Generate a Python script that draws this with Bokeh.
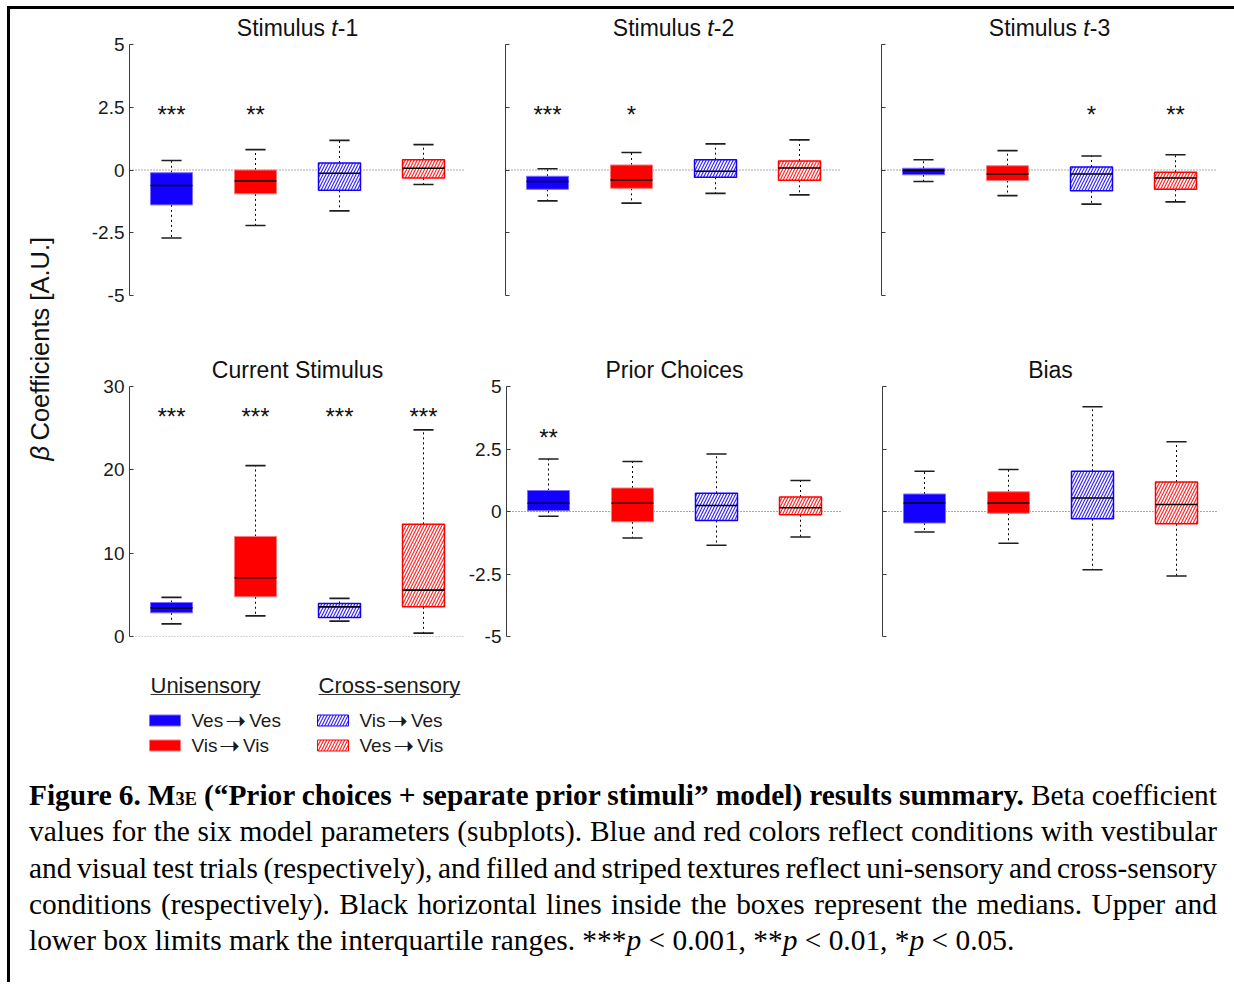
import math

from bokeh.core.properties import value
from bokeh.embed import file_html
from bokeh.layouts import column, row
from bokeh.models import Div, FixedTicker, Range1d, Spacer, Span
from bokeh.plotting import figure
from bokeh.resources import INLINE

# ---------------------------------------------------------------- data
ARROW = "➝"
conditions = ["Ves➝Ves", "Vis➝Vis", "Vis➝Ves", "Ves➝Vis"]
group_names = ["Unisensory", "Cross-sensory"]

beta_ticks = [-5, -2.5, 0, 2.5, 5]
beta_tick_labels = ["-5", "-2.5", "0", "2.5", "5"]
current_ticks = [0, 10, 20, 30]
current_tick_labels = ["0", "10", "20", "30"]

# Stimulus t-1
t1_low = [-2.71, -2.21, -1.63, -0.58]
t1_q1 = [-1.39, -0.95, -0.81, -0.32]
t1_med = [-0.62, -0.44, -0.13, 0.07]
t1_q3 = [-0.11, 0.00, 0.28, 0.41]
t1_high = [0.38, 0.81, 1.18, 1.01]
t1_stars = ["***", "**", "", ""]

# Stimulus t-2
t2_low = [-1.23, -1.32, -0.93, -0.99]
t2_q1 = [-0.77, -0.73, -0.29, -0.41]
t2_med = [-0.46, -0.40, -0.05, 0.08]
t2_q3 = [-0.25, 0.20, 0.41, 0.36]
t2_high = [0.05, 0.70, 1.04, 1.20]
t2_stars = ["***", "*", "", ""]

# Stimulus t-3
t3_low = [-0.46, -1.02, -1.36, -1.27]
t3_q1 = [-0.19, -0.42, -0.83, -0.77]
t3_med = [-0.02, -0.16, -0.16, -0.32]
t3_q3 = [0.07, 0.17, 0.12, -0.09]
t3_high = [0.41, 0.77, 0.56, 0.61]
t3_stars = ["", "", "*", "**"]

# Current stimulus
cur_low = [1.52, 2.48, 1.84, 0.40]
cur_q1 = [2.84, 4.77, 2.28, 3.56]
cur_med = [3.44, 7.05, 3.56, 5.57]
cur_q3 = [4.08, 12.00, 3.96, 13.46]
cur_high = [4.69, 20.50, 4.57, 24.80]
cur_stars = ["***", "***", "***", "***"]

# Prior choices
pc_low = [-0.19, -1.06, -1.35, -1.02]
pc_q1 = [0.03, -0.41, -0.36, -0.13]
pc_med = [0.33, 0.33, 0.24, 0.15]
pc_q3 = [0.84, 0.94, 0.73, 0.58]
pc_high = [2.10, 2.00, 2.30, 1.24]
pc_stars = ["**", "", "", ""]

# Bias
bias_low = [-0.82, -1.27, -2.33, -2.58]
bias_q1 = [-0.46, -0.07, -0.29, -0.49]
bias_med = [0.34, 0.34, 0.54, 0.28]
bias_q3 = [0.70, 0.79, 1.61, 1.18]
bias_high = [1.61, 1.68, 4.19, 2.79]
bias_stars = ["", "", "", ""]

# ---------------------------------------------------------------- style
SANS = "Liberation Sans"
SERIF = "Liberation Serif"
BLUE = "#1400ff"
RED = "#ff0000"
BLUE_EDGE = "#7a6dff"
RED_EDGE = "#ff7a7a"
box_colors = [BLUE, RED, BLUE, RED]
edge_colors = [BLUE_EDGE, RED_EDGE, BLUE, RED]
box_hatched = [False, False, True, True]
positions = [1, 2, 3, 4]
HALF_BOX = 0.25
HALF_CAP = 0.12
AXIS_COLOR = "#3c3c3c"
TITLE_SIZE = 23

# approximate advance widths (per 1000 em) for placing mixed-style text runs
ADV = {
    "A": 667, "B": 667, "C": 722, "P": 667, "S": 667, "U": 722, "V": 667,
    "a": 556, "c": 500, "e": 556, "f": 278, "h": 556, "i": 222, "l": 222,
    "m": 833, "n": 556, "o": 556, "r": 333, "s": 500, "t": 278, "u": 556,
    "y": 500, " ": 278, "-": 333, "1": 556, "2": 556, "3": 556, ".": 278,
}


def text_width(s, size):
    return sum(ADV.get(ch, 556) for ch in s) * size / 1000.0


def make_panel(title_runs, low, q1, med, q3, high, stars, star_level,
               y_lim, ticks, tick_labels, show_labels,
               border_left, border_right, axis_px, head_px, border_bottom):
    # the frame reaches head_px above the axis so the title can sit inside it
    y_lo, y_hi = y_lim
    per_px = (y_hi - y_lo) / axis_px
    p = figure(frame_width=336, frame_height=axis_px + head_px,
               x_range=Range1d(0.5, 4.5), y_range=Range1d(y_lo, y_hi + head_px * per_px),
               x_axis_location=None, toolbar_location=None, output_backend="svg",
               min_border_left=border_left, min_border_right=border_right,
               min_border_top=3, min_border_bottom=border_bottom)
    p.grid.visible = False
    p.outline_line_color = None
    p.background_fill_color = "white"
    p.border_fill_color = "white"

    ax = p.yaxis[0]
    ax.bounds = (y_lo, y_hi)
    ax.ticker = FixedTicker(ticks=ticks, minor_ticks=[])
    ax.major_label_overrides = {t: (lab if show_labels else "") for t, lab in zip(ticks, tick_labels)}
    ax.axis_line_color = AXIS_COLOR
    ax.axis_line_width = 1
    ax.major_tick_line_color = AXIS_COLOR
    ax.major_tick_in = 4
    ax.major_tick_out = 0
    ax.minor_tick_line_color = None
    ax.major_label_standoff = 5
    ax.major_label_text_font = SANS
    ax.major_label_text_font_size = "19px"
    ax.major_label_text_color = "#1a1a1a"

    # zero reference line
    p.add_layout(Span(location=0, dimension="width", line_color="#555555",
                      line_width=1, line_dash="1 2", level="underlay"))

    xs = positions
    # whiskers
    p.segment(x0=xs, y0=q3, x1=xs, y1=high, line_color="black", line_width=1, line_dash="2 3")
    p.segment(x0=xs, y0=q1, x1=xs, y1=low, line_color="black", line_width=1, line_dash="2 3")
    caps_l = [x - HALF_CAP for x in xs]
    caps_r = [x + HALF_CAP for x in xs]
    p.segment(x0=caps_l, y0=high, x1=caps_r, y1=high, line_color="#1e1e1e", line_width=1.6)
    p.segment(x0=caps_l, y0=low, x1=caps_r, y1=low, line_color="#1e1e1e", line_width=1.6)

    # boxes: filled (uni-sensory) and striped (cross-sensory)
    solid = [i for i in range(len(xs)) if not box_hatched[i]]
    striped = [i for i in range(len(xs)) if box_hatched[i]]
    p.quad(left=[xs[i] - HALF_BOX for i in solid], right=[xs[i] + HALF_BOX for i in solid],
           bottom=[q1[i] for i in solid], top=[q3[i] for i in solid],
           fill_color=[box_colors[i] for i in solid], line_color=[edge_colors[i] for i in solid],
           line_width=1)
    p.quad(left=[xs[i] - HALF_BOX for i in striped], right=[xs[i] + HALF_BOX for i in striped],
           bottom=[q1[i] for i in striped], top=[q3[i] for i in striped],
           fill_color="white", hatch_pattern="/", hatch_scale=6, hatch_weight=1.2,
           hatch_color=[box_colors[i] for i in striped], hatch_alpha=0.85,
           line_color=[edge_colors[i] for i in striped], line_width=1.5)

    # medians
    p.segment(x0=[x - HALF_BOX for x in xs], y0=med, x1=[x + HALF_BOX for x in xs], y1=med,
              line_color="black", line_width=1.6)

    # significance stars
    sx = [xs[i] for i, s in enumerate(stars) if s]
    st = [s for s in stars if s]
    if st:
        p.text(x=sx, y=[star_level] * len(st), text=st,
               text_align=value("center"), text_baseline=value("middle"),
               text_font=value(SANS), text_font_size=value("24px"), text_color="#111111")

    # title, drawn above the top of the axis (runs allow an italic part)
    total = sum(text_width(t, TITLE_SIZE) for t, _ in title_runs)
    cursor = -total / 2.0
    for t, style in title_runs:
        p.text(x=[2.5], y=[y_hi], text=[t], x_offset=cursor, y_offset=-17,
               text_align=value("left"), text_baseline=value("middle"),
               text_font=value(SANS), text_font_size=value(f"{TITLE_SIZE}px"),
               text_font_style=value(style), text_color="#111111")
        cursor += text_width(t, TITLE_SIZE)
    return p


TOP = dict(axis_px=251, head_px=32, border_bottom=45)
BOT = dict(axis_px=250, head_px=43, border_bottom=24)
BETA = (-5, 5)

f1 = make_panel([("Stimulus ", "normal"), ("t", "italic"), ("-1", "normal")],
                t1_low, t1_q1, t1_med, t1_q3, t1_high, t1_stars, 2.2,
                BETA, beta_ticks, beta_tick_labels, True, 59, 20, **TOP)
f2 = make_panel([("Stimulus ", "normal"), ("t", "italic"), ("-2", "normal")],
                t2_low, t2_q1, t2_med, t2_q3, t2_high, t2_stars, 2.2,
                BETA, beta_ticks, beta_tick_labels, False, 20, 20, **TOP)
f3 = make_panel([("Stimulus ", "normal"), ("t", "italic"), ("-3", "normal")],
                t3_low, t3_q1, t3_med, t3_q3, t3_high, t3_stars, 2.2,
                BETA, beta_ticks, beta_tick_labels, False, 20, 17, **TOP)
f4 = make_panel([("Current Stimulus", "normal")],
                cur_low, cur_q1, cur_med, cur_q3, cur_high, cur_stars, 26.4,
                (0, 30), current_ticks, current_tick_labels, True, 59, 0, **BOT)
f5 = make_panel([("Prior Choices", "normal")],
                pc_low, pc_q1, pc_med, pc_q3, pc_high, pc_stars, 2.95,
                BETA, beta_ticks, beta_tick_labels, True, 40, 20, **BOT)
f6 = make_panel([("Bias", "normal")],
                bias_low, bias_q1, bias_med, bias_q3, bias_high, bias_stars, 2.95,
                BETA, beta_ticks, beta_tick_labels, False, 20, 17, **BOT)


def blank_canvas(w, h):
    c = figure(width=w, height=h, x_range=Range1d(0, w), y_range=Range1d(h, 0),
               x_axis_location=None, y_axis_location=None, toolbar_location=None,
               output_backend="svg", min_border=0)
    c.grid.visible = False
    c.outline_line_color = None
    c.background_fill_color = "white"
    c.border_fill_color = "white"
    return c


# shared y-axis title
ylab = blank_canvas(60, 651)
ylab.text(x=[29], y=[451], text=["β"], angle=math.pi / 2,
          text_align=value("left"), text_baseline=value("middle"),
          text_font=value(SANS), text_font_size=value("25.5px"),
          text_font_style=value("italic"), text_color="#111111")
ylab.text(x=[29], y=[431], text=["Coefficients [A.U.]"], angle=math.pi / 2,
          text_align=value("left"), text_baseline=value("middle"),
          text_font=value(SANS), text_font_size=value("25.5px"), text_color="#111111")

# legend
leg = blank_canvas(1224, 110)
col_x = [140, 308]
row_y = [60, 85]
head_size = 22
item_size = 19
leg.text(x=col_x, y=[24.5, 24.5], text=group_names, text_align=value("left"),
         text_baseline=value("middle"), text_font=value(SANS),
         text_font_size=value(f"{head_size}px"), text_color="#1a1a1a")
leg.segment(x0=col_x, y0=[34, 34], x1=[x + text_width(g, head_size) for x, g in zip(col_x, group_names)],
            y1=[34, 34], line_color="#333333", line_width=1.2)
for i, name in enumerate(conditions):
    cx = col_x[i // 2] - 1
    cy = row_y[i % 2]
    if box_hatched[i]:
        leg.quad(left=[cx], right=[cx + 31], top=[cy - 5.5], bottom=[cy + 5.5],
                 fill_color="white", hatch_pattern="/", hatch_scale=6, hatch_weight=1.2,
                 hatch_color=box_colors[i], hatch_alpha=0.85,
                 line_color=box_colors[i], line_width=1)
    else:
        leg.quad(left=[cx], right=[cx + 31], top=[cy - 5.5], bottom=[cy + 5.5],
                 fill_color=box_colors[i], line_color=edge_colors[i], line_width=1)
    src, dst = name.split(ARROW)
    tx = cx + 42
    leg.text(x=[tx], y=[cy], text=[src], text_align=value("left"),
             text_baseline=value("middle"), text_font=value(SANS),
             text_font_size=value(f"{item_size}px"), text_color="#1a1a1a")
    tx += text_width(src, item_size) + 1
    leg.text(x=[tx], y=[cy], text=[ARROW], text_align=value("left"),
             text_baseline=value("middle"), text_font=value("DejaVu Sans"),
             text_font_size=value("25px"), text_color="#1a1a1a")
    tx += 24
    leg.text(x=[tx], y=[cy], text=[dst], text_align=value("left"),
             text_baseline=value("middle"), text_font=value(SANS),
             text_font_size=value(f"{item_size}px"), text_color="#1a1a1a")

# caption
line_style = ("white-space:nowrap;text-align:justify;text-align-last:justify;"
              "word-spacing:-1.5px;height:36.3px;")
tight_style = ("white-space:nowrap;text-align:justify;text-align-last:justify;"
               "word-spacing:-2.6px;height:36.3px;")
caption_html = (
    f'<div style="font-family:\'{SERIF}\';font-size:29.4px;line-height:36.3px;color:#000;'
    'box-sizing:content-box;width:1188px;padding:7px 0 0 19px;margin:0;">'
    f'<div style="{line_style}"><b>Figure 6. M<span style="font-size:62%;line-height:0;">3E</span> '
    '(“Prior choices + separate prior stimuli” model) results summary.</b> Beta coefficient</div>'
    f'<div style="{line_style}">values for the six model parameters (subplots). Blue and red colors '
    'reflect conditions with vestibular</div>'
    f'<div style="{tight_style}">and visual test trials (respectively), and filled '
    'and striped textures reflect uni-sensory and cross-sensory</div>'
    f'<div style="{line_style}">conditions (respectively). Black horizontal lines inside the boxes '
    'represent the medians. Upper and</div>'
    '<div style="white-space:nowrap;height:36.3px;">lower box limits mark the interquartile ranges. '
    '***<i>p</i> &lt; 0.001, **<i>p</i> &lt; 0.01, *<i>p</i> &lt; 0.05.</div>'
    '</div>'
)
caption = Div(text=caption_html, width=1224, height=212, margin=0)

panels = column(row(f1, f2, f3), row(f4, f5, f6))
content = column(row(ylab, panels), leg, caption)

top_rule = Div(text="", width=1227, height=3, margin=0, styles={"background-color": "#000000"})
left_rule = Div(text="", width=3, height=973, margin=0, styles={"background-color": "#000000"})

page = column(
    Spacer(width=1234, height=6, margin=0),
    row(Spacer(width=7, height=976, margin=0),
        column(top_rule, row(left_rule, content))),
)

with open("out.html", "w") as fh:
    fh.write(file_html(page, INLINE, "Figure 6"))
